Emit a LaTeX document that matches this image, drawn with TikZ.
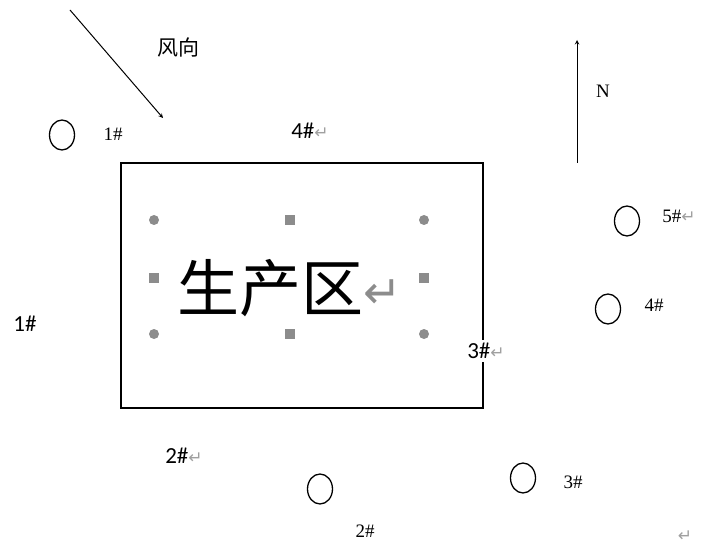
\documentclass[tikz,border=0pt]{standalone}
\usepackage{fontspec}
\setmainfont{Liberation Serif}
\newfontfamily\cjk{Noto Sans CJK SC}
\newfontfamily\symf{DejaVu Sans}
\newfontfamily\lab{Carlito}
\usetikzlibrary{shapes.geometric}
\definecolor{markgray}{HTML}{8C8C8C}
\definecolor{retgray}{HTML}{A0A0A0}
\newcommand{\ret}{\textcolor{retgray}{\symf\fontsize{17}{18}\selectfont ↵}}
\tikzset{
  well/.style={draw,ellipse,line width=1.3pt,minimum width=25pt,minimum height=30pt,inner sep=0pt},
  wlabel/.style={font=\fontsize{19}{21}\selectfont,inner sep=1pt},
  slabel/.style={font=\lab\fontsize{23}{25}\selectfont,inner sep=1pt},
}
\begin{document}
\begin{tikzpicture}[x=1pt,y=-1pt]
  \useasboundingbox (0,0) rectangle (701,545);

  % wind and north arrows
  \coordinate (w0) at (70,10);
  \coordinate (w1) at (163,118);
  \draw[->,>=stealth,line width=1pt] (w0) -- (w1);
  \node (wind) at (178,48) [font=\cjk\fontsize{21}{23}\selectfont] {风向};
  \coordinate (n0) at (577,163);
  \coordinate (n1) at (577,40);
  \draw[->,>=stealth,line width=1pt] (n0) -- (n1);
  \node (north) at (603,91) [font=\fontsize{19}{21}\selectfont] {N};

  % production area
  \draw[line width=1.3pt] (121,163) rectangle (483,408);
  \foreach \x in {154,424}
    \foreach \y in {220,334}
      \fill[markgray] (\x,\y) circle (5pt);
  \foreach \x/\y in {290/220,290/334,154/278,424/278}
    \fill[markgray] (\x-5,\y-5) rectangle (\x+5,\y+5);
  \node (zone) at (290,288) [font=\cjk\fontsize{62}{64}\selectfont,inner sep=0pt]
    {生产区\textcolor{markgray}{\symf\fontsize{46}{48}\selectfont\raisebox{3pt}{↵}}};

  % sample points
  \node[slabel] (s4) at (310,131) {4\#\ret};
  \node[slabel] (s1) at (25,324) {1\#};
  \node[slabel,fill=white,inner sep=3pt] (s3) at (486,351) {3\#\ret};
  \node[slabel] (s2) at (184,456) {2\#\ret};

  % wells
  \node[well] (o1) at (62,135) {};
  \node[well] (o5) at (627,221) {};
  \node[well] (o4) at (608,309) {};
  \node[well] (o3) at (523,478) {};
  \node[well] (o2) at (320,489) {};
  \node[wlabel] (l1) at (113,134) {1\#};
  \node[wlabel] (l5) at (679,216) {5\#\ret};
  \node[wlabel] (l4) at (654,305) {4\#};
  \node[wlabel] (l3) at (573,482) {3\#};
  \node[wlabel] (l2) at (365,531) {2\#};
  \node (end) at (685,536) {\ret};
\end{tikzpicture}
\end{document}
